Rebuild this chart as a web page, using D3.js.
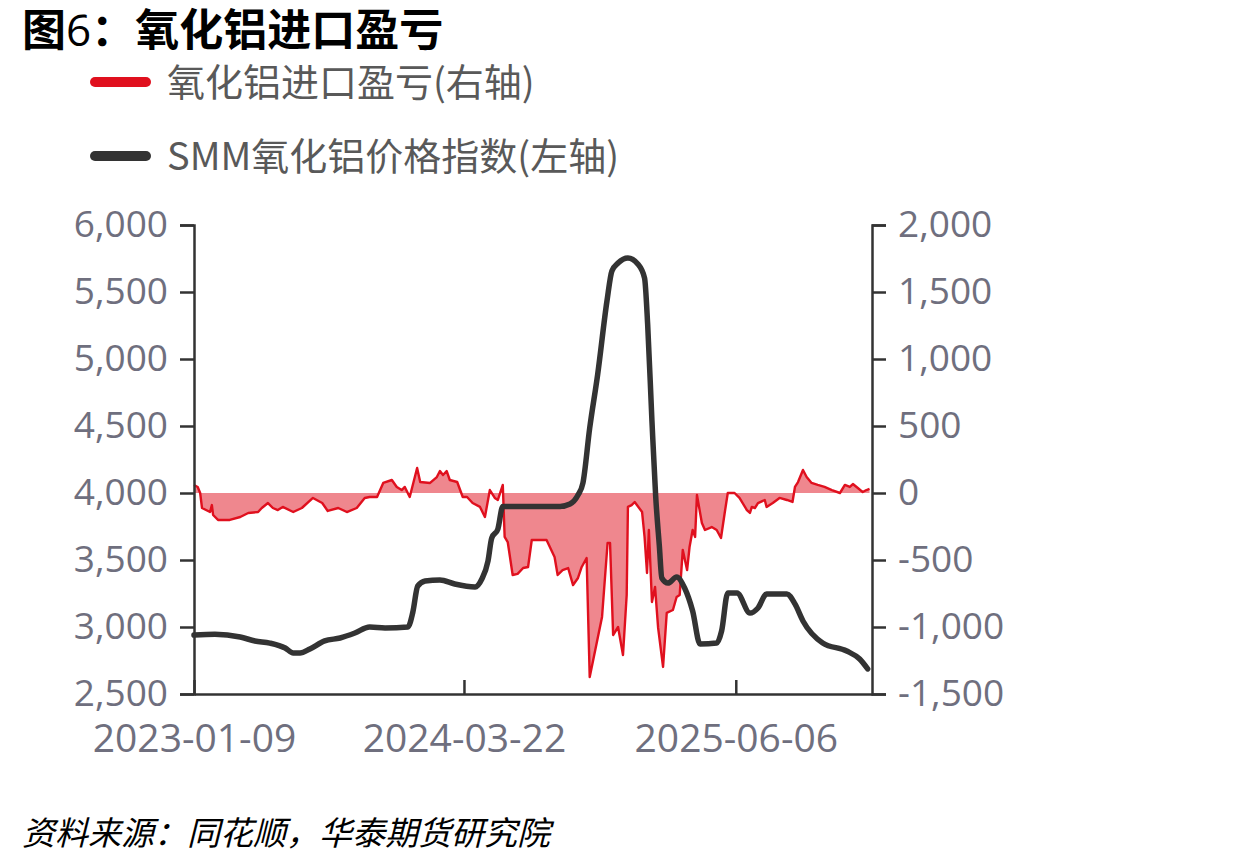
<!DOCTYPE html>
<head>
  <meta charset="utf-8">
  <script src="https://d3js.org/d3.v7.min.js"></script>
  <style>
    body { margin:0; background:#fff; }
  </style>
</head>

<body>
  <svg id="chart" width="1240" height="866"></svg>
  <script>
    // SMM alumina price index (left axis)
    const priceDates = ["2023-01-09","2023-02-12","2023-03-25","2023-04-18","2023-05-12","2023-06-06","2023-06-19","2023-06-30",
      "2023-07-16","2023-08-09","2023-09-03","2023-09-27","2023-10-21","2023-11-15","2023-12-22","2023-12-30","2024-01-07",
      "2024-01-19","2024-02-12","2024-03-07","2024-04-09","2024-04-20","2024-04-30","2024-05-06","2024-05-16","2024-05-24",
      "2024-06-04","2024-08-25","2024-09-10","2024-09-23","2024-10-01","2024-10-12","2024-10-25","2024-11-09","2024-11-17",
      "2024-11-27","2024-12-13","2024-12-29","2025-01-09","2025-01-14","2025-01-21","2025-01-27","2025-02-02","2025-02-06",
      "2025-02-16","2025-03-02","2025-03-15","2025-03-28","2025-04-09","2025-05-06","2025-05-14","2025-05-24","2025-06-08",
      "2025-06-29","2025-07-12","2025-07-26","2025-08-28","2025-09-10","2025-09-23","2025-10-25","2025-12-03","2025-12-24",
      "2026-01-06"];
    const priceValues = [2940,2945,2925,2896,2880,2843,2806,2806,
      2836,2896,2918,2955,3000,2993,3000,3110,3306,
      3343,3351,3321,3299,3358,3493,3664,3731,3900,
      3900,3900,3918,3985,4075,4485,4888,5433,5657,
      5716,5754,5709,5604,5261,4537,3978,3604,3366,
      3328,3373,3291,3119,2873,2881,2970,3254,3254,
      3104,3142,3246,3246,3172,3045,2881,2821,2761,
      2687];

    // alumina import profit/loss (right axis)
    const profitDates = ["2023-01-09","2023-01-15","2023-01-19","2023-01-22","2023-02-04","2023-02-07","2023-02-09","2023-02-17",
      "2023-03-08","2023-03-25","2023-04-07","2023-04-23","2023-04-29","2023-05-09","2023-05-17","2023-05-25","2023-06-02",
      "2023-06-19","2023-07-03","2023-07-21","2023-08-05","2023-08-14","2023-08-31","2023-09-14","2023-09-30","2023-10-13",
      "2023-10-21","2023-11-02","2023-11-12","2023-11-26","2023-12-04","2023-12-12","2023-12-17","2023-12-25","2024-01-06",
      "2024-01-11","2024-01-27","2024-02-07","2024-02-12","2024-02-17","2024-02-23","2024-02-28","2024-03-11","2024-03-20",
      "2024-03-27","2024-04-05","2024-04-17","2024-04-25","2024-05-03","2024-05-11","2024-05-16","2024-05-24","2024-05-27",
      "2024-06-01","2024-06-09","2024-06-17","2024-06-26","2024-07-04","2024-07-10","2024-08-03","2024-08-16","2024-08-21",
      "2024-08-29","2024-09-07","2024-09-15","2024-09-23","2024-09-29","2024-10-07","2024-10-12","2024-11-01","2024-11-10",
      "2024-11-14","2024-11-19","2024-11-27","2024-12-05","2024-12-11","2024-12-13","2024-12-19","2024-12-24","2025-01-05",
      "2025-01-09","2025-01-13","2025-01-16","2025-01-21","2025-01-26","2025-01-31","2025-02-08","2025-02-14","2025-02-24",
      "2025-03-02","2025-03-07","2025-03-12","2025-03-19","2025-03-23","2025-03-28","2025-04-01","2025-04-04","2025-04-12",
      "2025-04-17","2025-04-28","2025-05-06","2025-05-13","2025-05-19","2025-05-24","2025-06-04","2025-06-12","2025-06-24",
      "2025-06-29","2025-07-02","2025-07-07","2025-07-12","2025-07-23","2025-07-26","2025-08-05","2025-08-16","2025-08-28",
      "2025-09-06","2025-09-10","2025-09-15","2025-09-23","2025-09-29","2025-10-07","2025-10-17","2025-10-28","2025-11-09",
      "2025-11-22","2025-11-30","2025-12-08","2025-12-13","2025-12-21","2025-12-29","2026-01-04","2026-01-09"];
    const profitValues = [60,45,0,-112,-142,-90,-164,-201,
      -201,-179,-149,-142,-112,-75,-112,-127,-104,
      -142,-112,-37,-75,-134,-112,-142,-112,-37,
      -30,-30,75,97,45,22,45,-30,187,
      82,75,119,164,134,164,97,82,-30,
      -30,-75,-104,-179,22,-37,-52,60,-328,
      -366,-612,-604,-560,-552,-351,-351,-478,-612,
      -575,-560,-687,-634,-552,-485,-1373,-925,-373,
      -373,-1060,-1000,-1209,-761,-104,-90,-67,-142,
      -328,-597,-276,-813,-701,-1007,-1298,-895,-873,
      -776,-761,-425,-575,-403,-276,-328,-15,-224,
      -276,-254,-276,-336,-149,0,0,-37,-127,
      -149,-104,-112,-75,-52,-104,-75,-37,-52,
      -67,45,82,172,119,75,60,45,22,
      0,60,45,67,37,7,22,30];

    const xTickDates = ["2023-01-09","2024-03-22","2025-06-06"];
    const leftTicks = [2500,3000,3500,4000,4500,5000,5500,6000];
    const rightTicks = [-1500,-1000,-500,0,500,1000,1500,2000];

    const parse = d3.timeParse("%Y-%m-%d");
    const price = priceDates.map((d, i) => ({date: parse(d), value: priceValues[i]}));
    const profit = profitDates.map((d, i) => ({date: parse(d), value: profitValues[i]}));

    const plotL = 194, plotR = 872, plotT = 225, plotB = 694;

    const x = d3.scaleTime()
      .domain([parse("2023-01-09"), parse("2026-01-13")])
      .range([plotL, plotR]);
    const yL = d3.scaleLinear().domain([2500, 6000]).range([plotB, plotT]);
    const yR = d3.scaleLinear().domain([-1500, 2000]).range([plotB, plotT]);

    const svg = d3.select("#chart");
    // plain hyphen for negatives, like the original
    const fmt = d3.formatLocale({decimal: ".", thousands: ",", grouping: [3], currency: ["", ""], minus: "-"}).format(",");
    const numFont = "'Open Sans', 'Noto Sans', sans-serif";
    const cjkFont = "'Noto Sans CJK SC', sans-serif";

    // title
    const title = svg.append("text")
      .attr("x", 22).attr("y", 46)
      .style("font-family", cjkFont).style("font-size", "44px")
      .style("font-weight", "bold").attr("fill", "#000");
    title.append("tspan").text("图");
    title.append("tspan").style("font-weight", "normal").style("font-family", numFont).text("6");
    title.append("tspan").text("：氧化铝进口盈亏");

    // legend
    const legend = [
      {label: "氧化铝进口盈亏(右轴)", color: "#e0101e", y: 82},
      {label: "SMM氧化铝价格指数(左轴)", color: "#333333", y: 156}
    ];
    legend.forEach(l => {
      svg.append("line")
        .attr("x1", 95).attr("x2", 146).attr("y1", l.y).attr("y2", l.y)
        .attr("stroke", l.color).attr("stroke-width", 10).attr("stroke-linecap", "round");
      svg.append("text")
        .attr("x", 167).attr("y", l.y).attr("dy", "0.36em")
        .style("font-family", cjkFont).style("font-size", "38px")
        .attr("fill", "#595959").text(l.label);
    });

    // area + lines
    const area = d3.area()
      .x(d => x(d.date)).y0(yR(0)).y1(d => yR(d.value));
    svg.append("path").datum(profit)
      .attr("d", area).attr("fill", "#ef878e");
    svg.append("path").datum(profit)
      .attr("d", d3.line().x(d => x(d.date)).y(d => yR(d.value)))
      .attr("fill", "none").attr("stroke", "#e0101e").attr("stroke-width", 2.4)
      .attr("stroke-linejoin", "round");
    svg.append("path").datum(price)
      .attr("d", d3.line().curve(d3.curveMonotoneX).x(d => x(d.date)).y(d => yL(d.value)))
      .attr("fill", "none").attr("stroke", "#333333").attr("stroke-width", 5.5)
      .attr("stroke-linejoin", "round").attr("stroke-linecap", "round");

    // axes
    const axisColor = "#333";
    const labelColor = "#6f6f7e";

    const gL = svg.append("g").attr("transform", `translate(${plotL},0)`)
      .call(d3.axisLeft(yL).tickValues(leftTicks).tickFormat(fmt).tickSize(14).tickPadding(12));
    const gR = svg.append("g").attr("transform", `translate(${plotR},0)`)
      .call(d3.axisRight(yR).tickValues(rightTicks).tickFormat(fmt).tickSize(14).tickPadding(12));
    const gB = svg.append("g").attr("transform", `translate(0,${plotB})`)
      .call(d3.axisBottom(x).tickValues(xTickDates.map(parse)).tickFormat(d3.timeFormat("%Y-%m-%d"))
        .tickSizeInner(-14).tickSizeOuter(0).tickPadding(30));

    [gL, gR, gB].forEach(g => {
      g.select(".domain").attr("stroke", axisColor).attr("stroke-width", 2.5);
      g.selectAll(".tick line").attr("stroke", axisColor).attr("stroke-width", 2.5);
      g.selectAll("text").attr("fill", labelColor)
        .style("font-family", numFont).style("font-size", "37px");
    });
    gB.selectAll(".tick text").attr("dy", "0.71em").style("font-size", "39px");

    // source
    svg.append("text")
      .attr("x", 22).attr("y", 845)
      .style("font-family", cjkFont).style("font-size", "33px")
      .style("font-style", "italic").attr("fill", "#000")
      .text("资料来源：同花顺，华泰期货研究院");
  </script>
</body>
